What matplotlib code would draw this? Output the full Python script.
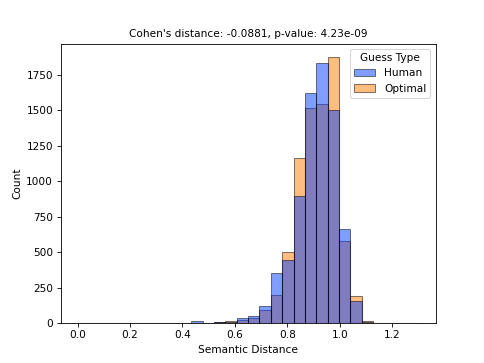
import numpy as np
import matplotlib
matplotlib.use("Agg")
import matplotlib.pyplot as plt

# 30 equal bins between 0 and 1.3 (semantic distance)
bin_edges = np.linspace(0.0, 1.3, 31)

human_counts = [0, 0, 0, 0, 0, 0, 0, 1, 2, 1,
                12, 2, 9, 10, 33, 50, 120, 355, 442, 899,
                1625, 1835, 1501, 666, 158, 7, 0, 0, 0, 1]
optimal_counts = [0, 0, 0, 0, 0, 0, 0, 2, 1, 1,
                  3, 2, 5, 16, 25, 38, 94, 195, 501, 1167,
                  1517, 1548, 1877, 581, 193, 16, 1, 0, 0, 0]

title_text = "Cohen's distance: -0.0881, p-value: 4.23e-09"

centers = (bin_edges[:-1] + bin_edges[1:]) / 2

fig, ax = plt.subplots(figsize=(6.4, 4.8), dpi=75.625)

# optimal first so human sits on top (like seaborn's layering)
ax.hist(centers, bins=bin_edges, weights=optimal_counts, color="#ff7c00",
        alpha=0.5, edgecolor="black", linewidth=1, label="Optimal")
ax.hist(centers, bins=bin_edges, weights=human_counts, color="#023eff",
        alpha=0.5, edgecolor="black", linewidth=1, label="Human")

handles, labels = ax.get_legend_handles_labels()
ax.legend(handles[::-1], labels[::-1], title="Guess Type", loc="upper right")

ax.set_xlabel("Semantic Distance")
ax.set_ylabel("Count")
ax.set_title(title_text, fontsize=10)

fig.savefig("out.png")
